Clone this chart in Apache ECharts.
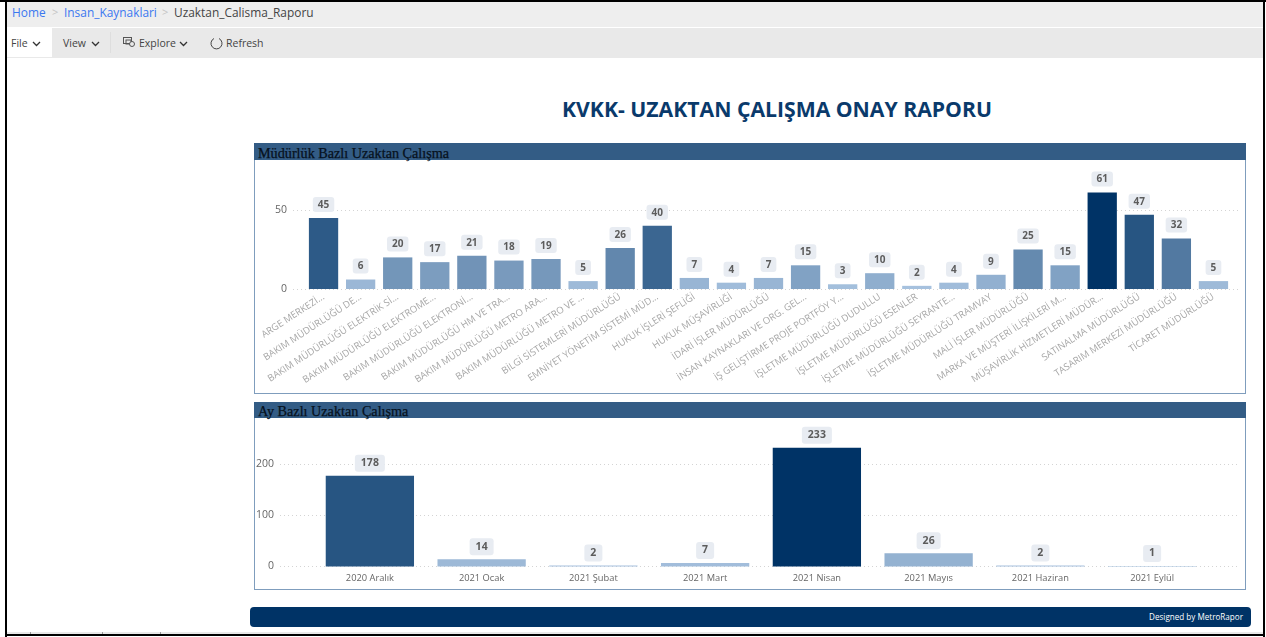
<!DOCTYPE html>
<html lang="tr">
<head>
<meta charset="utf-8">
<title>Uzaktan_Calisma_Raporu</title>
<script src="https://cdn.jsdelivr.net/npm/echarts@6/dist/echarts.min.js"></script>
<style>
  html, body { margin: 0; padding: 0; width: 1266px; height: 637px; overflow: hidden; background: #fff; font-family: "Open Sans", "Noto Sans", sans-serif; }
  .box { position: absolute; box-sizing: border-box; }
  .abs { position: absolute; white-space: nowrap; }
  .crumb { top: 3px; font-size: 11.900px; line-height: 18px; color: #3b78f0; }
  .tool { top: 36px; font-size: 10.500px; line-height: 15px; color: #444; }
  .head { left: 254px; width: 992px; background: #335c85; }
  .head span { position: absolute; left: 4px; top: 1px; font: 14.200px/18px "Liberation Serif", serif; color: #06111d; white-space: nowrap; -webkit-text-stroke: 0.250px #06111d; }
  .panel { left: 254px; width: 992px; border: 1px solid #7f9dbd; background: #fff; }
  svg { position: absolute; }
  #chart { position: absolute; left: 0; top: 0; width: 1266px; height: 637px; }
</style>
</head>
<body>
  <!-- report viewer toolbar -->
  <div class="box" style="left:7px;top:2px;width:1256px;height:25px;background:#eeeeee"></div>
  <div class="box" style="left:7px;top:28px;width:1256px;height:30px;background:#e9e9e9"></div>
  <div class="box" style="left:7px;top:28px;width:45px;height:29px;background:#fff"></div>
  <div class="abs crumb" style="left:12px">Home</div>
  <div class="abs crumb" style="left:52px;color:#c4c4c4;font-size:11px">&gt;</div>
  <div class="abs crumb" style="left:64px">Insan_Kaynaklari</div>
  <div class="abs crumb" style="left:162px;color:#c4c4c4;font-size:11px">&gt;</div>
  <div class="abs crumb" style="left:174px;color:#444">Uzaktan_Calisma_Raporu</div>
  <div class="abs tool" style="left:11px">File</div>
  <svg style="left:32px;top:41px" width="9" height="6"><path d="M1 1l3.500 3.500L8 1" fill="none" stroke="#333" stroke-width="1.300"/></svg>
  <div class="abs tool" style="left:63px">View</div>
  <svg style="left:91px;top:41px" width="9" height="6"><path d="M1 1l3.500 3.500L8 1" fill="none" stroke="#333" stroke-width="1.300"/></svg>
  <div class="box" style="left:110px;top:32px;width:1px;height:21px;background:#dedede"></div>
  <svg style="left:123px;top:37px" width="13" height="11"><rect x="0.500" y="0.500" width="8" height="6" fill="none" stroke="#555"/><rect x="3" y="3" width="5" height="4" fill="none" stroke="#555"/><circle cx="9" cy="7" r="2.500" fill="#e9e9e9" stroke="#555"/></svg>
  <div class="abs tool" style="left:139px">Explore</div>
  <svg style="left:179px;top:41px" width="9" height="6"><path d="M1 1l3.500 3.500L8 1" fill="none" stroke="#333" stroke-width="1.300"/></svg>
  <svg style="left:210px;top:37px" width="13" height="13"><path d="M4 1.500A5.500 5.500 0 1 0 9 1.500" fill="none" stroke="#444"/></svg>
  <div class="abs tool" style="left:226px">Refresh</div>

  <div class="abs" style="left:562px;top:94px;font-size:21.200px;line-height:30px;font-weight:700;color:#0a3a6b">KVKK- UZAKTAN ÇALIŞMA ONAY RAPORU</div>

  <!-- panels behind the chart canvas -->
  <div class="box panel" style="top:143px;height:251px"></div>
  <div class="box head" style="top:143px;height:17px"><span>Müdürlük Bazlı Uzaktan Çalışma</span></div>
  <div class="box panel" style="top:402px;height:188px"></div>
  <div class="box head" style="top:402px;height:16px"><span style="top:0">Ay Bazlı Uzaktan Çalışma</span></div>

  <div id="chart"></div>

  <div class="box" style="left:250px;top:607px;width:1001px;height:20px;background:#003366;border-radius:4px"></div>
  <div class="abs" style="right:23px;top:610px;font-size:8.100px;line-height:14px;color:#fff">Designed by MetroRapor</div>

  <!-- window frame -->
  <div class="box" style="left:7px;top:632px;width:1256px;height:2px;background:#e8e8e8"></div>
  <div class="box" style="left:30px;top:632px;width:1px;height:2px;background:#999"></div>
  <div class="box" style="left:102px;top:632px;width:1px;height:2px;background:#999"></div>
  <div class="box" style="left:160px;top:632px;width:1px;height:2px;background:#999"></div>
  <div class="box" style="left:0;top:0;width:1266px;height:2px;background:#000"></div>
  <div class="box" style="left:5px;top:0;width:2px;height:637px;background:#000"></div>
  <div class="box" style="left:1263px;top:0;width:2px;height:637px;background:#000"></div>
  <div class="box" style="left:5px;top:634px;width:1260px;height:2px;background:#000"></div>

<script>
  // Müdürlük bazlı
  const mudurlukler = [
    'ARGE MERKEZİ...', 'BAKIM MÜDÜRLÜĞÜ DE...', 'BAKIM MÜDÜRLÜĞÜ ELEKTRİK Sİ...',
    'BAKIM MÜDÜRLÜĞÜ ELEKTROME...', 'BAKIM MÜDÜRLÜĞÜ ELEKTRONİ...', 'BAKIM MÜDÜRLÜĞÜ HM VE TRA...',
    'BAKIM MÜDÜRLÜĞÜ METRO ARA...', 'BAKIM MÜDÜRLÜĞÜ METRO VE ...', 'BİLGİ SİSTEMLERİ MÜDÜRLÜĞÜ',
    'EMNİYET YÖNETİM SİSTEMİ MÜD...', 'HUKUK İŞLERİ ŞEFLİĞİ', 'HUKUK MÜŞAVİRLİĞİ',
    'İDARİ İŞLER MÜDÜRLÜĞÜ', 'İNSAN KAYNAKLARI VE ORG. GEL...', 'İŞ GELİŞTİRME PROJE PORTFÖY Y...',
    'İŞLETME MÜDÜRLÜĞÜ DUDULLU', 'İŞLETME MÜDÜRLÜĞÜ ESENLER', 'İŞLETME MÜDÜRLÜĞÜ SEYRANTE...',
    'İŞLETME MÜDÜRLÜĞÜ TRAMVAY', 'MALİ İŞLER MÜDÜRLÜĞÜ', 'MARKA VE MÜŞTERİ İLİŞKİLERİ M...',
    'MÜŞAVİRLİK HİZMETLERİ MÜDÜR...', 'SATINALMA MÜDÜRLÜĞÜ', 'TASARIM MERKEZİ MÜDÜRLÜĞÜ',
    'TİCARET MÜDÜRLÜĞÜ'
  ]
  const mudurlukDeger = [45, 6, 20, 17, 21, 18, 19, 5, 26, 40, 7, 4, 7, 15, 3, 10, 2, 4, 9, 25, 15, 61, 47, 32, 5]

  // Ay bazlı
  const aylar = ['2020 Aralık', '2021 Ocak', '2021 Şubat', '2021 Mart', '2021 Nisan', '2021 Mayıs', '2021 Haziran', '2021 Eylül']
  const ayDeger = [178, 14, 2, 7, 233, 26, 2, 1]

  const acikRenk = '#a6c1de'
  const koyuRenk = '#003366'

  let myChart = echarts.init(document.getElementById('chart'), null, { renderer: 'canvas' })

  // gridlines run wider than the bars, so each chart gets a back grid just for the value axis
  function backAxis(gridIndex, max, interval) {
    return {
      gridIndex, type: 'value', min: 0, max, interval,
      axisLine: { show: false },
      axisTick: { show: false },
      axisLabel: { color: '#666', fontSize: 10.5, margin: 6, showMaxLabel: false, fontFamily: 'Open Sans', padding: [2, 0, 0, 0] },
      splitLine: { show: true, showMaxLine: false, lineStyle: { type: [1, 3], color: '#d4d4d4' } }
    }
  }
  function barLabel(fontSize, padding, distance) {
    return {
      show: true, position: 'top', distance,
      color: '#5c5c5c', fontWeight: 'bold', fontSize, fontFamily: 'Open Sans',
      backgroundColor: '#e8ecf2', borderRadius: 3, padding
    }
  }

  let option = {
    backgroundColor: 'transparent',
    animation: false,
    grid: [
      { left: 293, right: 26, top: 170.5, height: 118.5 },
      { left: 305, right: 34, top: 170.5, height: 118.5 },
      { left: 280, right: 26, top: 423.7, height: 142.8 },
      { left: 314, right: 58, top: 423.7, height: 142.8 }
    ],
    xAxis: [
      { gridIndex: 0, type: 'value', min: 0, max: 1, show: false },
      {
        gridIndex: 1, type: 'category', data: mudurlukler,
        axisLine: { show: false }, axisTick: { show: false },
        axisLabel: { interval: 0, rotate: 33, color: '#a6a6a6', fontSize: 9.500, margin: 7, fontFamily: 'Open Sans' }
      },
      { gridIndex: 2, type: 'value', min: 0, max: 1, show: false },
      {
        gridIndex: 3, type: 'category', data: aylar,
        axisLine: { show: false }, axisTick: { show: false },
        axisLabel: { interval: 0, color: '#666', fontSize: 9.300, margin: 7, fontFamily: 'Open Sans' }
      }
    ],
    yAxis: [
      backAxis(0, 75, 50),
      { gridIndex: 1, type: 'value', min: 0, max: 75, show: false },
      backAxis(2, 280, 100),
      { gridIndex: 3, type: 'value', min: 0, max: 280, show: false }
    ],
    // bar shade follows the value
    visualMap: [
      { show: false, seriesIndex: 0, dimension: 1, min: 2, max: 61, inRange: { color: [acikRenk, koyuRenk] } },
      { show: false, seriesIndex: 1, dimension: 1, min: 1, max: 233, inRange: { color: [acikRenk, koyuRenk] } }
    ],
    series: [
      {
        type: 'bar', xAxisIndex: 1, yAxisIndex: 1, data: mudurlukDeger,
        barWidth: '79%', label: barLabel(10, [3, 5, 2, 5], 6)
      },
      {
        type: 'bar', xAxisIndex: 3, yAxisIndex: 3, data: ayDeger,
        barWidth: '79%', label: barLabel(10.5, [3, 6, 3, 6], 4)
      }
    ]
  }

  myChart.setOption(option)
</script>
</body>
</html>
